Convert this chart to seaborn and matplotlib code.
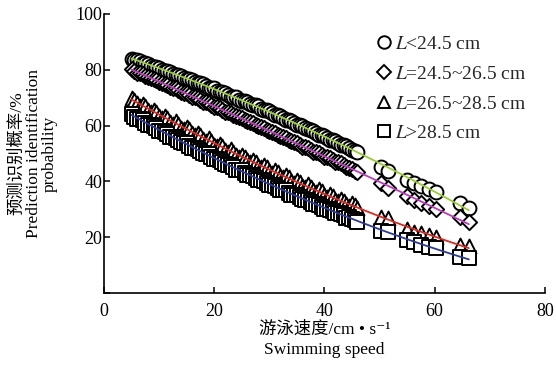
import matplotlib
matplotlib.use("Agg")
import matplotlib.pyplot as plt
import seaborn as sns
import pandas as pd
from matplotlib.lines import Line2D

# ---- data ----
speed_dense = [5, 6, 7, 8, 9, 10, 11, 12, 13, 14, 15, 16, 17, 18, 19, 20, 21, 22, 23, 24, 25,
               26, 27, 28, 29, 30, 31, 32, 33, 34, 35, 36, 37, 38, 39, 40, 41, 42, 43, 44, 45, 46]
speed_half = [5.5, 6.5, 7.5, 8.5, 9.5, 10.5, 11.5, 12.5, 13.5, 14.5, 15.5, 16.5, 17.5, 18.5,
              19.5, 20.5, 21.5, 22.5, 23.5, 24.5, 25.5, 26.5, 27.5, 28.5, 29.5, 30.5, 31.5,
              32.5, 33.5, 34.5, 35.5, 36.5, 37.5, 38.5, 39.5, 40.5, 41.5, 42.5, 43.5, 44.5, 45.5]
speed_sparse = [50.3, 51.6, 54.9, 56.3, 57.6, 59.0, 60.3, 64.6, 66.2]

prob_lt245_dense = [83.9, 83.5, 82.4, 82.1, 81.0, 80.7, 79.6, 79.3, 78.1, 77.8, 76.7, 76.3, 75.2, 74.9,
                    73.6, 73.3, 72.0, 71.7, 70.4, 70.1, 68.8, 68.5, 67.2, 66.9, 65.5, 65.2, 63.8, 63.5,
                    62.1, 61.7, 60.3, 60.0, 58.6, 58.2, 56.8, 56.4, 55.0, 54.6, 53.1, 52.7, 51.2, 50.6]
prob_lt245_half = [83.5, 83.1, 82.4, 81.4, 81.0, 80.0, 79.6, 78.6, 78.1, 77.1, 76.6, 75.6, 75.2, 74.1,
                   73.6, 72.5, 72.0, 70.9, 70.4, 69.3, 68.8, 67.7, 67.2, 66.1, 65.5, 64.4, 63.8, 62.7,
                   62.0, 60.9, 60.3, 59.2, 58.5, 57.4, 56.7, 55.6, 54.9, 53.7, 53.0, 51.8, 51.0]
prob_lt245_sparse = [45.3, 43.8, 40.5, 39.4, 38.4, 37.4, 36.2, 32.2, 30.5]

prob_245_265_dense = [80.1, 79.0, 78.5, 77.3, 76.8, 75.5, 75.0, 73.8, 73.3, 72.0, 71.6, 70.3, 69.9, 68.6,
                      68.1, 66.8, 66.4, 65.0, 64.6, 63.3, 62.8, 61.5, 61.0, 59.7, 59.2, 57.9, 57.4, 56.1,
                      55.6, 54.3, 53.8, 52.5, 52.0, 50.6, 50.1, 48.8, 48.3, 47.0, 46.5, 45.1, 44.6, 43.3]
prob_245_265_half = [79.6, 78.7, 77.9, 77.0, 76.2, 75.3, 74.4, 73.6, 72.6, 71.8, 70.9, 70.1, 69.2, 68.4,
                     67.4, 66.6, 65.7, 64.8, 63.9, 63.1, 62.1, 61.3, 60.3, 59.5, 58.5, 57.7, 56.7, 55.9,
                     54.9, 54.1, 53.1, 52.3, 51.3, 50.4, 49.4, 48.6, 47.6, 46.8, 45.8, 44.9, 43.9]
prob_245_265_sparse = [39.4, 37.8, 34.6, 33.4, 32.3, 31.2, 30.2, 27.2, 25.3]

prob_265_285_dense = [69.9, 68.0, 67.8, 65.6, 65.7, 63.5, 63.6, 61.4, 61.5, 59.3, 59.5, 57.2, 57.5, 55.2,
                      55.4, 53.2, 53.5, 51.3, 51.5, 49.4, 49.6, 47.5, 47.7, 45.6, 45.9, 43.8, 44.1, 42.0,
                      42.3, 40.2, 40.6, 38.5, 38.9, 36.8, 37.2, 35.0, 35.5, 33.4, 33.8, 31.8, 32.2, 30.3]
prob_265_285_half = [69.2, 67.0, 66.9, 64.8, 64.9, 62.6, 62.8, 60.6, 60.7, 58.6, 58.6, 56.5, 56.6, 54.5,
                     54.6, 52.6, 52.6, 50.6, 50.7, 48.7, 48.8, 46.8, 46.9, 45.0, 45.0, 43.1, 43.2, 41.4,
                     41.5, 39.6, 39.8, 37.9, 38.0, 36.2, 36.4, 34.5, 34.7, 32.9, 33.0, 31.2, 31.4]
prob_265_285_sparse = [27.2, 26.8, 22.8, 22.0, 21.5, 20.8, 20.1, 17.2, 16.8]

prob_gt285_dense = [64.0, 62.4, 61.9, 60.2, 59.8, 58.1, 57.7, 56.0, 55.7, 54.0, 53.6, 52.0, 51.6, 50.0,
                    49.7, 48.0, 47.7, 46.1, 45.9, 44.2, 44.0, 42.4, 42.1, 40.6, 40.3, 38.8, 38.5, 37.0,
                    36.8, 35.3, 35.0, 33.6, 33.3, 31.9, 31.6, 30.2, 29.9, 28.5, 28.2, 26.9, 26.5, 25.4]
prob_gt285_half = [63.0, 62.2, 61.0, 60.1, 59.0, 58.0, 56.9, 55.9, 54.8, 53.9, 52.8, 51.9, 50.8, 49.9,
                   48.8, 47.9, 46.9, 46.0, 45.0, 44.1, 43.1, 42.3, 41.3, 40.5, 39.5, 38.7, 37.7, 36.9,
                   36.0, 35.2, 34.3, 33.5, 32.6, 31.8, 31.0, 30.2, 29.4, 28.7, 27.8, 27.1, 26.2]
prob_gt285_sparse = [22.4, 21.8, 19.0, 18.3, 17.3, 16.6, 16.1, 13.0, 12.5]

group_labels = [r"$L$<24.5 cm", r"$L$=24.5~26.5 cm", r"$L$=26.5~28.5 cm", r"$L$>28.5 cm"]
x_ticks = [0, 20, 40, 60, 80]
y_ticks = [0, 20, 40, 60, 80, 100]
y_tick_labels = ["", "20", "40", "60", "80", "100"]

# ---- styling ----
markers = ["o", "D", "^", "s"]
marker_sizes = [100, 60, 100, 95]
fit_colors = ["#9acd32", "#c038c0", "#e8261e", "#2e3a9c"]

sns.set_theme(style="ticks")
plt.rcParams["font.family"] = ["Liberation Serif", "Noto Sans CJK SC", "DejaVu Sans"]
plt.rcParams["mathtext.fontset"] = "stix"
plt.rcParams["axes.unicode_minus"] = False

series = [
    (prob_lt245_dense, prob_lt245_half, prob_lt245_sparse),
    (prob_245_265_dense, prob_245_265_half, prob_245_265_sparse),
    (prob_265_285_dense, prob_265_285_half, prob_265_285_sparse),
    (prob_gt285_dense, prob_gt285_half, prob_gt285_sparse),
]
frames = []
for lab, (d, h, s) in zip(group_labels, series):
    xs = []
    ys = []
    for j in range(len(speed_dense)):
        xs.append(speed_dense[j]); ys.append(d[j])
        if j < len(speed_half):
            xs.append(speed_half[j]); ys.append(h[j])
    xs += speed_sparse
    ys += s
    frames.append(pd.DataFrame({"speed": xs, "prob": ys, "group": lab}))
df = pd.concat(frames, ignore_index=True)

fig = plt.figure(figsize=(5.56, 3.67), dpi=100)
ax = fig.add_axes([0.187, 0.2016, 0.793, 0.7604])

for i, lab in enumerate(group_labels):
    sub = df[df["group"] == lab]
    sns.scatterplot(data=sub, x="speed", y="prob", marker=markers[i], s=marker_sizes[i],
                    facecolor="white", edgecolor="black", linewidth=1.4, ax=ax,
                    zorder=2, legend=False)
for i, lab in enumerate(group_labels):
    sub = df[df["group"] == lab]
    sns.regplot(data=sub, x="speed", y="prob", order=2, scatter=False, ci=None, ax=ax,
                line_kws=dict(color=fit_colors[i], lw=1.3, zorder=3))

ax.set_xlim(0, 80)
ax.set_ylim(0, 100)
ax.set_xticks(x_ticks)
ax.set_yticks(y_ticks)
ax.set_yticklabels(y_tick_labels)
ax.tick_params(direction="in", length=4, width=1.1, labelsize=13, colors="black")
ax.tick_params(axis="x", pad=7)
ax.tick_params(axis="y", pad=1)
for sp in ["top", "right"]:
    ax.spines[sp].set_visible(False)
for sp in ["left", "bottom"]:
    ax.spines[sp].set_linewidth(1.2)
    ax.spines[sp].set_color("black")

ax.set_xlabel("游泳速度/cm • s⁻¹\nSwimming speed", fontsize=12.5, linespacing=1.4,
              labelpad=1, color="black")
ax.set_ylabel("预测识别概率/%\nPrediction identification\nprobability", fontsize=12.5,
              linespacing=1.0, labelpad=13, color="black")

handles = [Line2D([], [], ls="", marker=m, ms=9 if m != "D" else 7.5, mfc="white",
                  mec="black", mew=1.4) for m in markers]
ax.legend(handles, group_labels, loc="upper left", bbox_to_anchor=(0.59, 0.95),
          frameon=False, fontsize=14, handletextpad=0.0, handlelength=1.2,
          labelspacing=0.62, borderaxespad=0)

fig.savefig("out.png", dpi=100)
